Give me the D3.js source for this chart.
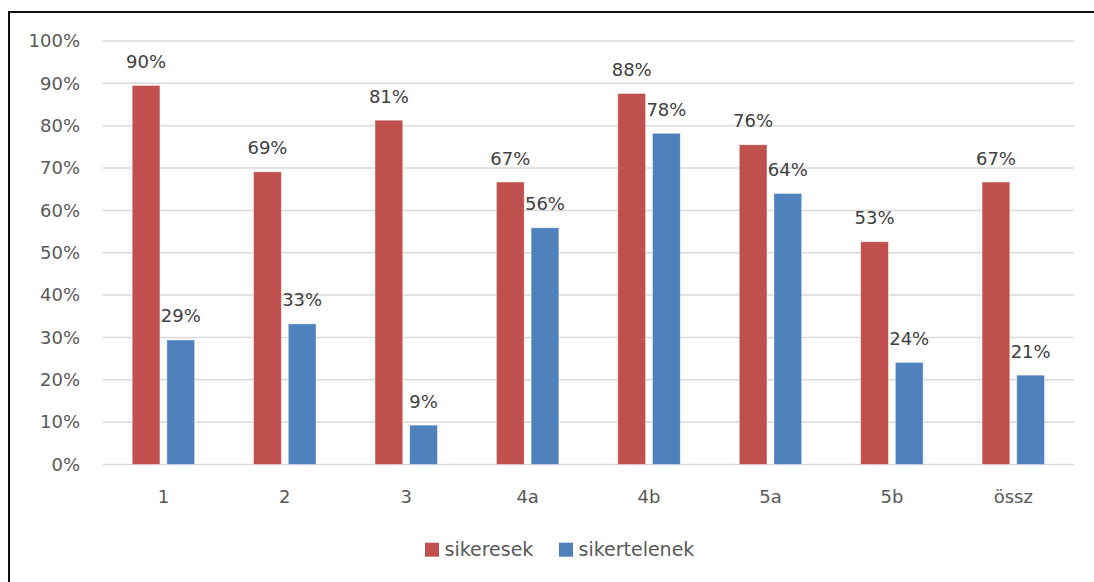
<!DOCTYPE html>
<html>
<head>
<meta charset="utf-8">
<script src="https://cdn.jsdelivr.net/npm/d3@7"></script>
<style>
  html, body { margin: 0; padding: 0; background: #fff; }
  svg { display: block; font-family: "DejaVu Sans", sans-serif; }
</style>
</head>
<body>
<svg id="chart" width="1094" height="582"></svg>
<script>
// Task categories
const categories = ["1", "2", "3", "4a", "4b", "5a", "5b", "össz"];
// Share of successful attempts per task
const sikeresek = [0.895, 0.691, 0.813, 0.667, 0.876, 0.755, 0.526, 0.667];
// Share of unsuccessful attempts per task
const sikertelenek = [0.294, 0.332, 0.093, 0.559, 0.782, 0.640, 0.241, 0.211];
// Value axis ticks
const yTicks = [0, 0.1, 0.2, 0.3, 0.4, 0.5, 0.6, 0.7, 0.8, 0.9, 1.0];

const seriesNames = ["sikeresek", "sikertelenek"];
const seriesValues = [sikeresek, sikertelenek];
const colors = ["#C0504D", "#4F81BD"];

const svg = d3.select("#chart");
const margin = { left: 102.7, right: 1074, top: 41, bottom: 464.5 };

// Outer frame (top and left edges)
svg.append("path")
  .attr("d", "M9,582 L9,12 L1094,12")
  .attr("fill", "none")
  .attr("stroke", "#111")
  .attr("stroke-width", 2);

const x = d3.scaleBand()
  .domain(categories)
  .range([margin.left, margin.right])
  .paddingInner(0)
  .paddingOuter(0);

const y = d3.scaleLinear()
  .domain([0, 1])
  .range([margin.bottom, margin.top]);

const pct = d3.format(".0%");

// Gridlines
svg.append("g")
  .selectAll("line")
  .data(yTicks)
  .join("line")
  .attr("x1", margin.left)
  .attr("x2", margin.right)
  .attr("y1", d => y(d))
  .attr("y2", d => y(d))
  .attr("stroke", "#d9d9d9")
  .attr("stroke-width", 1.5);

// Y axis labels
const yAxis = d3.axisLeft(y).tickValues(yTicks).tickFormat(pct).tickSize(0).tickPadding(0);
const yg = svg.append("g")
  .attr("transform", "translate(80,0)")
  .call(yAxis);
yg.select(".domain").remove();
yg.selectAll("text")
  .attr("font-family", "DejaVu Sans, sans-serif")
  .attr("font-size", 18)
  .attr("fill", "#595959");

// X axis labels
const xAxis = d3.axisBottom(x).tickSize(0).tickPadding(0);
const xg = svg.append("g")
  .attr("transform", `translate(0,${margin.bottom})`)
  .call(xAxis);
xg.select(".domain").remove();
xg.selectAll("text")
  .attr("font-family", "DejaVu Sans, sans-serif")
  .attr("font-size", 18)
  .attr("fill", "#595959")
  .attr("dy", null)
  .attr("y", 38.5);

// Grouped bars
const inner = d3.scaleBand()
  .domain(seriesNames)
  .range([0, x.bandwidth()])
  .paddingInner(0.2)
  .paddingOuter(0.85);

const rows = [];
categories.forEach((c, i) => {
  seriesNames.forEach((s, j) => {
    rows.push({ cat: c, series: s, value: seriesValues[j][i], color: colors[j] });
  });
});

svg.append("g")
  .selectAll("rect")
  .data(rows)
  .join("rect")
  .attr("x", d => x(d.cat) + inner(d.series))
  .attr("y", d => y(d.value))
  .attr("width", inner.bandwidth())
  .attr("height", d => y(0) - y(d.value))
  .attr("fill", d => d.color)
  .attr("stroke", "#ffffff")
  .attr("stroke-opacity", 0.5)
  .attr("stroke-width", 0.8);

// Value labels
svg.append("g")
  .selectAll("text")
  .data(rows)
  .join("text")
  .attr("x", d => x(d.cat) + inner(d.series) + inner.bandwidth() / 2)
  .attr("y", d => y(d.value) - 17.5)
  .attr("text-anchor", "middle")
  .attr("font-size", 18)
  .attr("fill", "#404040")
  .text(d => pct(d.value));

// Legend
const legend = svg.append("g");
const legendItems = [
  { name: seriesNames[0], color: colors[0], x: 425 },
  { name: seriesNames[1], color: colors[1], x: 559 }
];
legendItems.forEach(it => {
  legend.append("rect")
    .attr("x", it.x).attr("y", 542.7)
    .attr("width", 14).attr("height", 14)
    .attr("fill", it.color);
  legend.append("text")
    .attr("x", it.x + 19.5).attr("y", 555.5)
    .attr("font-size", 19)
    .attr("fill", "#595959")
    .text(it.name);
});
</script>
</body>
</html>
